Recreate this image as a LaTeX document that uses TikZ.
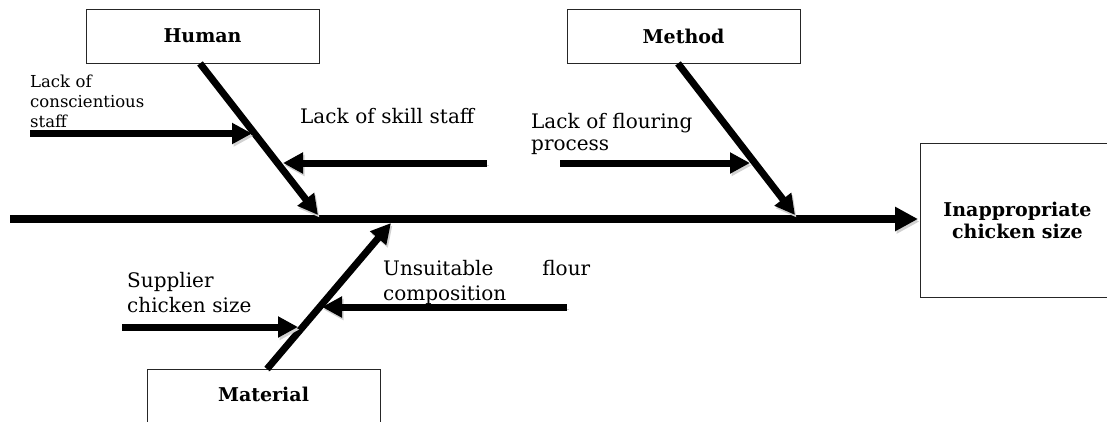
\documentclass[tikz,border=0pt]{standalone}
\usepackage{fontspec}
\setmainfont{DejaVu Serif}
\usetikzlibrary{arrows.meta}
\begin{document}
\begin{tikzpicture}[x=1pt,y=-1pt,
  shadowed/.style={preaction={draw=black!18, transform canvas={shift={(1.5pt,-2.5pt)}}}},
  box/.style={draw=black!85, line width=0.9pt, inner sep=0pt, font=\fontsize{19}{22}\selectfont\bfseries},
  bone/.style={line width=7pt, -{Triangle[length=20pt,width=20pt]}, shadowed},
  spine/.style={line width=8pt, -{Triangle[length=23pt,width=23pt]}, shadowed},
  lbl/.style={anchor=base west, inner sep=0pt, align=left, font=\fontsize{20}{25}\selectfont},
  smalllbl/.style={anchor=base west, inner sep=0pt, align=left, font=\fontsize{16.5}{20}\selectfont}
]
\useasboundingbox (0,0) rectangle (1107,421);
\clip (0,0) rectangle (1107,421);

% category boxes
\node[box, minimum width=233pt, minimum height=54pt] (human) at (202.5,36) {Human};
\node[box, minimum width=233pt, minimum height=54pt] (method) at (683.5,36) {Method};
\node[box, minimum width=233pt, minimum height=104pt, anchor=north] (matbox) at (263.5,369) {};
\node[anchor=base, inner sep=0pt, font=\fontsize{19}{22}\selectfont\bfseries] (material) at (263.5,401) {Material};
\node[box, minimum width=194pt, minimum height=154pt, anchor=north west, align=center,
      font=\fontsize{19}{22}\selectfont\bfseries] (effect) at (920,143) {Inappropriate\\chicken size};

% spine
\coordinate (tail) at (10,219);
\draw[spine, shorten >=2pt] (tail) -- (tail -| effect.west);

% main bones
\coordinate (hj) at (318,215);
\draw[bone] ([xshift=-2.5pt]human.south) -- (hj);
\coordinate (mj) at (795,215);
\draw[bone] ([xshift=-5.5pt]method.south) -- (mj);
\coordinate (matj) at (391,223);
\draw[bone] ([xshift=3.5pt]matbox.north) -- (matj);

% causes: Human
\node[smalllbl, text width=150pt] (t1) at (30,87) {Lack of\\conscientious\\staff};
\coordinate (c1s) at (30,133.5);
\coordinate (c1e) at (252,133.5);
\draw[bone] (c1s) -- (c1e);

\node[lbl, text width=200pt] (t2) at (300,123) {Lack of skill staff};
\coordinate (c2s) at (487,163);
\coordinate (c2e) at (283,163);
\draw[bone] (c2s) -- (c2e);

% causes: Method
\node[lbl, text width=220pt, font=\fontsize{20}{22}\selectfont] (t3) at (531,128) {Lack of flouring\\process};
\coordinate (c3s) at (560,163);
\coordinate (c3e) at (750,163);
\draw[bone] (c3s) -- (c3e);

% causes: Material
\node[lbl, text width=170pt] (t4) at (127,287) {Supplier\\chicken size};
\coordinate (c4s) at (122,327);
\coordinate (c4e) at (298,327);
\draw[bone] (c4s) -- (c4e);

\node[lbl, text width=207pt] (t5) at (383,275) {Unsuitable\hfill flour\\composition};
\coordinate (c5s) at (567,307);
\coordinate (c5e) at (322,307);
\draw[bone] (c5s) -- (c5e);
\end{tikzpicture}
\end{document}
